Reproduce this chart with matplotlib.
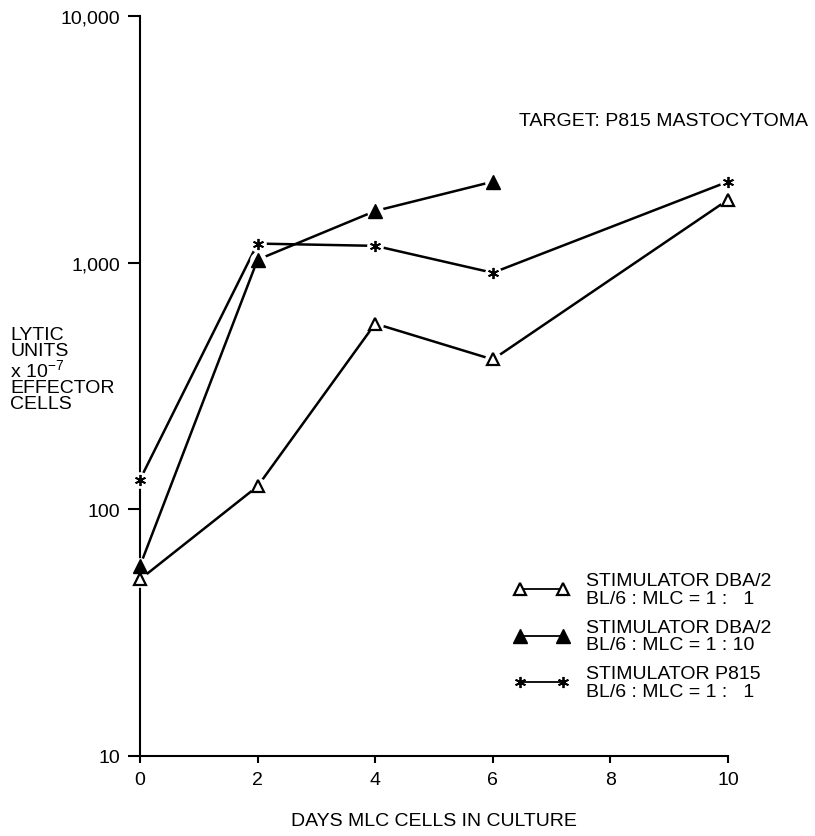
import numpy as np
import matplotlib
matplotlib.use('Agg')
import matplotlib.pyplot as plt

plt.rcParams['font.family'] = ['Liberation Sans', 'DejaVu Sans']

# data
days_dba_1 = [0, 2, 4, 6, 10]
lu_dba_1 = [52, 124, 566, 405, 1800]

days_dba_10 = [0, 2, 4, 6]
lu_dba_10 = [59, 1028, 1620, 2130]

days_p815 = [0, 2, 4, 6, 10]
lu_p815 = [132, 1195, 1170, 910, 2130]

labels = ['STIMULATOR DBA/2\nBL/6 : MLC = 1 :   1',
          'STIMULATOR DBA/2\nBL/6 : MLC = 1 : 10',
          'STIMULATOR P815\nBL/6 : MLC = 1 :   1']

yticks = [10, 100, 1000, 10000]
yticklabels = ['10', '100', '1,000', '10,000']
xticks = [0, 2, 4, 6, 8, 10]

fig = plt.figure(figsize=(8.15, 8.37), dpi=100)
ax = fig.add_axes([140/815, 1-757/837, 588/815, 740/837])

fs = 14
star = (6, 2, 0)
series = [
    (days_dba_1, lu_dba_1, dict(marker='^', mfc='white', mec='black', ms=9, mew=1.6)),
    (days_dba_10, lu_dba_10, dict(marker='^', mfc='black', mec='black', ms=10, mew=1)),
    (days_p815, lu_p815, dict(marker=star, mfc='black', mec='black', ms=8, mew=1.3)),
]

handles = []
for (x, y, mk), lab in zip(series, labels):
    ax.plot(x, y, color='black', lw=1.8, zorder=2)
    # white halo so the lines stop short of the symbols
    ax.plot(x, y, ls='none', marker='o', ms=12, mfc='white', mec='none', zorder=3)
    ax.plot(x, y, ls='none', zorder=4, **mk)
    h, = plt.plot([], [], color='black', lw=1.3, **mk)
    handles.append(h)

ax.set_yscale('log')
ax.set_ylim(10, 10000)
ax.set_xlim(0, 10)
ax.set_yticks(yticks)
ax.set_yticklabels(yticklabels)
ax.yaxis.set_minor_locator(matplotlib.ticker.NullLocator())
ax.set_xticks(xticks)
ax.tick_params(axis='y', direction='out', length=9, width=1.5, labelsize=fs, pad=5)
ax.tick_params(axis='x', direction='out', length=5, width=1.5, labelsize=fs, pad=6)
for s in ['top', 'right']:
    ax.spines[s].set_visible(False)
for s in ['left', 'bottom']:
    ax.spines[s].set_linewidth(1.5)
for ln in ax.lines:
    ln.set_clip_on(False)

ax.set_xlabel('DAYS MLC CELLS IN CULTURE', fontsize=fs, labelpad=17)

ylab = 'LYTIC\nUNITS\nx 10$\\mathregular{^{-7}}$\nEFFECTOR\nCELLS'
fig.text(10/815, 1-327/837, ylab, fontsize=fs, va='top', ha='left', linespacing=0.93)

fig.text(808/815, 1-121/837, 'TARGET: P815 MASTOCYTOMA', fontsize=fs, ha='right', va='center')

leg = fig.legend(handles, labels, loc='upper left', bbox_to_anchor=(514/815, 1-573/837),
                 frameon=False, fontsize=fs, numpoints=2, handlelength=2.8, handletextpad=0.9,
                 labelspacing=0.6, borderpad=0, borderaxespad=0)
for t in leg.get_texts():
    t.set_linespacing(1.07)

plt.savefig('out.png', dpi=100)
